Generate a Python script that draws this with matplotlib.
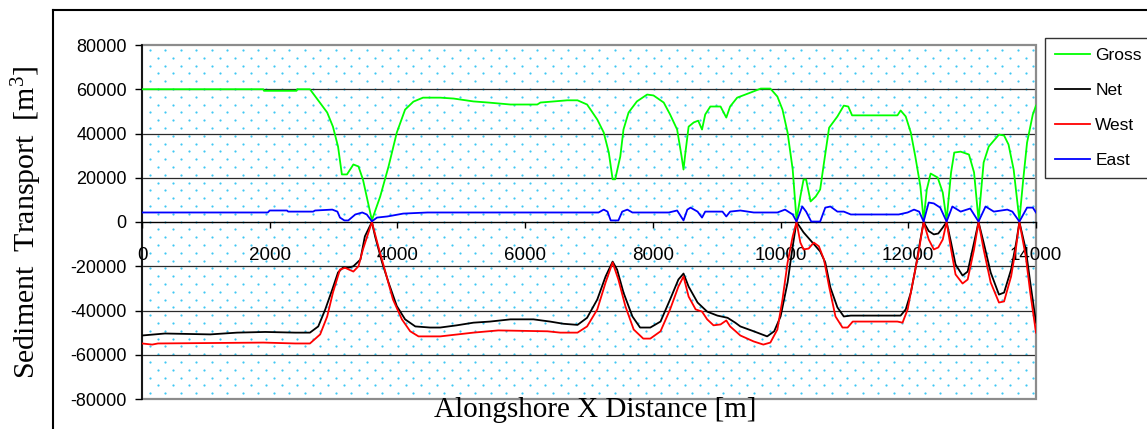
import numpy as np
import matplotlib
matplotlib.use("Agg")
import matplotlib.pyplot as plt
from matplotlib.lines import Line2D
from matplotlib.patches import Rectangle

plt.rcParams['font.family'] = ['Liberation Sans', 'DejaVu Sans']
plt.rcParams['mathtext.fontset'] = 'custom'
plt.rcParams['mathtext.rm'] = 'Liberation Serif'
plt.rcParams['mathtext.it'] = 'Liberation Serif:italic'
plt.rcParams['axes.unicode_minus'] = False

# ---------------- data ----------------
gross_x = [0, 1900, 1910, 2420, 2430, 2630, 2900, 2990, 3070, 3130, 3210, 3310, 3390, 3460, 3600,
           3730, 3860, 3990, 4120, 4250, 4400, 4670, 4880, 5190, 5420, 5770, 6190, 6240, 6660,
           6820, 6970, 7130, 7230, 7310, 7370, 7410, 7490, 7540, 7620, 7750, 7910, 8010, 8170,
           8270, 8380, 8450, 8480, 8510, 8560, 8640, 8710, 8770, 8820, 8900, 9060, 9150, 9210,
           9320, 9530, 9690, 9840, 9950, 10030, 10110, 10190, 10250, 10310, 10360, 10400, 10470,
           10550, 10620, 10680, 10760, 10890, 10990, 11060, 11120, 11830, 11880, 11960, 12040,
           12110, 12190, 12240, 12290, 12350, 12460, 12540, 12600, 12670, 12720, 12820, 12950,
           13030, 13100, 13180, 13260, 13420, 13500, 13570, 13650, 13740, 13800, 13860, 13950, 14000]
gross_y = [60000, 60000, 59300, 59300, 60000, 60000, 49500, 43100, 34100, 21500, 21500, 26000, 25100,
           19200, 800, 11500, 25000, 40400, 50800, 54400, 56200, 56200, 55800, 54500, 54000, 53100,
           53100, 54000, 55000, 55000, 53100, 46300, 40500, 31400, 19300, 19300, 29600, 41800, 49500,
           54500, 57600, 57200, 54000, 48600, 41800, 29600, 23700, 31400, 43100, 45000, 45800, 41800,
           48600, 52200, 52200, 47200, 52200, 56200, 58500, 60300, 60300, 56700, 50800, 40400, 23700,
           800, 11500, 19200, 19200, 9300, 11500, 14700, 26800, 42600, 47700, 52600, 52200, 48200,
           48200, 50400, 47700, 40400, 29600, 16000, 800, 14700, 21900, 20100, 13300, 800, 22400,
           31400, 31800, 30500, 22400, 800, 26900, 34100, 39500, 39100, 35000, 23700, 800, 19200,
           35900, 48600, 52600]

net_x = [0, 360, 1070, 1490, 1930, 2400, 2630, 2760, 2870, 2980, 3070, 3150, 3230, 3310, 3420, 3490,
         3600, 3650, 3760, 3860, 3990, 4120, 4280, 4510, 4670, 4930, 5190, 5450, 5770, 6130, 6390,
         6600, 6820, 6970, 7130, 7260, 7370, 7440, 7540, 7680, 7800, 7960, 8120, 8270, 8400, 8480,
         8560, 8700, 8850, 9010, 9170, 9290, 9370, 9580, 9790, 9900, 10000, 10110, 10190, 10250,
         10360, 10500, 10620, 10700, 10780, 10890, 10990, 11100, 11880, 11960, 12040, 12110, 12190,
         12240, 12320, 12400, 12470, 12540, 12600, 12670, 12740, 12850, 12930, 13030, 13100, 13180,
         13290, 13420, 13500, 13610, 13690, 13740, 13840, 13910, 14000]
net_y = [-51300, -50400, -50800, -50000, -49700, -50000, -50000, -47200, -39500, -30500, -22800,
         -20500, -20700, -20000, -17000, -6500, 0, -6500, -18300, -27300, -38000, -44000, -47200,
         -47700, -47700, -46700, -45500, -45000, -44000, -44000, -45000, -46000, -46500, -43300,
         -35000, -24600, -17900, -21500, -31900, -42700, -47700, -47700, -45000, -35000, -26000,
         -23300, -29200, -36400, -40500, -42300, -43300, -45500, -47200, -49400, -51700, -49400,
         -42700, -27300, -11000, 0, -4700, -9300, -13300, -18300, -29600, -38600, -42700, -42300,
         -42300, -39500, -31900, -21500, -7900, 0, -4100, -5600, -5200, -2500, 0, -9300, -19200,
         -24200, -22400, -9300, 0, -9300, -22800, -32800, -31900, -21500, -9300, 0, -12400, -27300,
         -45500]

west_x = [0, 160, 250, 1900, 2400, 2630, 2790, 2900, 2990, 3100, 3180, 3310, 3390, 3460, 3600, 3700,
          3810, 3930, 4070, 4200, 4330, 4670, 5190, 5580, 6350, 6550, 6820, 6970, 7130, 7260, 7370,
          7460, 7570, 7700, 7850, 7960, 8120, 8270, 8400, 8480, 8560, 8670, 8770, 8850, 8950, 9060,
          9150, 9210, 9320, 9370, 9580, 9730, 9840, 9950, 10030, 10110, 10190, 10250, 10310, 10360,
          10440, 10520, 10600, 10680, 10760, 10860, 10970, 11050, 11130, 11830, 11910, 11990, 12070,
          12150, 12220, 12240, 12320, 12400, 12470, 12540, 12600, 12670, 12740, 12850, 12930, 13030,
          13100, 13180, 13290, 13420, 13500, 13610, 13690, 13740, 13840, 13910, 14000]
west_y = [-54900, -55400, -54900, -54500, -54900, -54900, -50800, -42700, -31900, -21500, -20700,
          -22400, -20000, -12400, 0, -11000, -22400, -35000, -44000, -49400, -51700, -51700, -50000,
          -49000, -49400, -50000, -50000, -47200, -39500, -27300, -18300, -26000, -38100, -48600,
          -52700, -52700, -49400, -39500, -29200, -24600, -33700, -39500, -40500, -44000, -46700,
          -46300, -44500, -47200, -50000, -51300, -54000, -55400, -54500, -48600, -35000, -18300,
          -6500, 0, -9300, -12400, -12000, -9300, -11000, -17000, -29200, -42700, -47700, -47700,
          -45000, -45000, -45500, -39500, -27300, -15600, -3400, 0, -7900, -12400, -11500, -7900, 0,
          -12400, -23700, -27800, -26000, -12400, 0, -12400, -27300, -36400, -35900, -24600, -11000,
          0, -15600, -31900, -50000]

east_x = [0, 1970, 2000, 2270, 2290, 2680, 2710, 2980, 3060, 3100, 3170, 3230, 3340, 3450, 3520, 3600,
          3680, 3840, 3920, 4090, 4470, 7150, 7230, 7290, 7340, 7460, 7520, 7600, 7680, 8250, 8380,
          8480, 8540, 8590, 8700, 8770, 8820, 9090, 9150, 9210, 9370, 9580, 9950, 10070, 10190, 10250,
          10340, 10400, 10480, 10620, 10700, 10780, 10890, 10990, 11100, 11850, 11990, 12090, 12170,
          12240, 12320, 12400, 12500, 12600, 12690, 12820, 12970, 13100, 13210, 13340, 13550, 13630,
          13740, 13860, 13950, 14000]
east_y = [4300, 4300, 5200, 5200, 4700, 4700, 5200, 5600, 4700, 2000, 700, 700, 3400, 4300, 3400, 300,
          2000, 2500, 2900, 3800, 4300, 4300, 5600, 4700, 700, 700, 4700, 5600, 4300, 4300, 5200, 700,
          5600, 6500, 4700, 2000, 4700, 4700, 2500, 4700, 5200, 4300, 4300, 5600, 3400, 200, 7000,
          4700, 200, 200, 6500, 7000, 4700, 4700, 3400, 3400, 4300, 5600, 4700, 200, 8800, 8400, 6500,
          200, 7000, 4700, 6100, 200, 7000, 4700, 5600, 4700, 200, 6500, 6500, 4300]

series_names = ['Gross', 'Net', 'West', 'East']
series_colors = ['#00ff00', '#000000', '#ff0000', '#0000ff']

x_ticks = [0, 2000, 4000, 6000, 8000, 10000, 12000, 14000]
y_ticks = [80000, 60000, 40000, 20000, 0, -20000, -40000, -60000, -80000]

# ---------------- figure ----------------
W, H = 1147, 429
fig = plt.figure(figsize=(W / 100, H / 100), dpi=100)
L, R, T, B = 142, 1036, 45, 399
ax = fig.add_axes([L / W, 1 - B / H, (R - L) / W, (B - T) / H])
ax.set_xlim(0, 14000)
ax.set_ylim(-80000, 80000)

# dotted background pattern
pw, ph = R - L, B - T
dx, dy = 15.5, 7.8
xs, ys = [], []
row = 0
yy = 5.0
while yy < ph:
    start = 7.8 if row % 2 == 0 else 0.0
    xx = start
    while xx < pw:
        if xx > 1:
            xs.append(xx / pw)
            ys.append(1 - yy / ph)
        xx += dx
    yy += dy
    row += 1
ax.plot(xs, ys, 'o', ms=1.6, mec='none', color='#40c8f4', transform=ax.transAxes, zorder=0,
        clip_on=True)

# grid lines
for yv in [60000, 40000, 20000, -20000, -40000, -60000]:
    ax.axhline(yv, color='#2a2a2a', lw=0.9, zorder=1)

# frame
ax.add_patch(Rectangle((0, 0), 1, 1, transform=ax.transAxes, fill=False, edgecolor='#8c8c8c',
                       lw=1.6, zorder=1, clip_on=False))

for sx, sy, nm, c in zip([gross_x, net_x, west_x, east_x], [gross_y, net_y, west_y, east_y],
                         series_names, series_colors):
    ax.plot(sx, sy, color=c, lw=1.3, label=nm, zorder=3)

for s in ['top', 'right']:
    ax.spines[s].set_visible(False)
ax.spines['bottom'].set_position(('data', 0))
ax.spines['bottom'].set_color('black')
ax.spines['bottom'].set_linewidth(1.0)
ax.spines['bottom'].set_zorder(2)
ax.spines['left'].set_color('black')
ax.spines['left'].set_linewidth(1.2)

ax.set_xticks(x_ticks)
ax.set_xticklabels([str(v) for v in x_ticks], fontsize=13.5)
ax.set_yticks(y_ticks)
ax.set_yticklabels([str(v) for v in y_ticks], fontsize=13)
ax.tick_params(axis='x', direction='out', length=4, width=1, pad=14)
ax.tick_params(axis='y', direction='out', length=5, width=1, pad=6)

# labels
fig.text(27 / W, 1 - 222 / H, 'Sediment  Transport  [m$^{3}$]', rotation=90, ha='center',
         va='center', fontsize=21.5, family='Liberation Serif')
fig.text(595 / W, 1 - 417 / H, 'Alongshore X Distance [m]', ha='center', va='baseline',
         fontsize=21, family='Liberation Serif')

# legend
leg = fig.legend(loc='upper left', bbox_to_anchor=(1045 / W, 1 - 38 / H), fontsize=12.5,
                 frameon=True, fancybox=False, edgecolor='black', handlelength=2.05,
                 handletextpad=0.3, labelspacing=1.15, borderpad=0.55, borderaxespad=0)
leg.get_frame().set_linewidth(1.0)

# outer frame lines
fig.add_artist(Line2D([53 / W, 53 / W], [1 - 10 / H, 0], color='black', lw=1.5))
fig.add_artist(Line2D([53 / W, 1], [1 - 10 / H, 1 - 10 / H], color='black', lw=1.5))

fig.savefig('out.png', dpi=100)
